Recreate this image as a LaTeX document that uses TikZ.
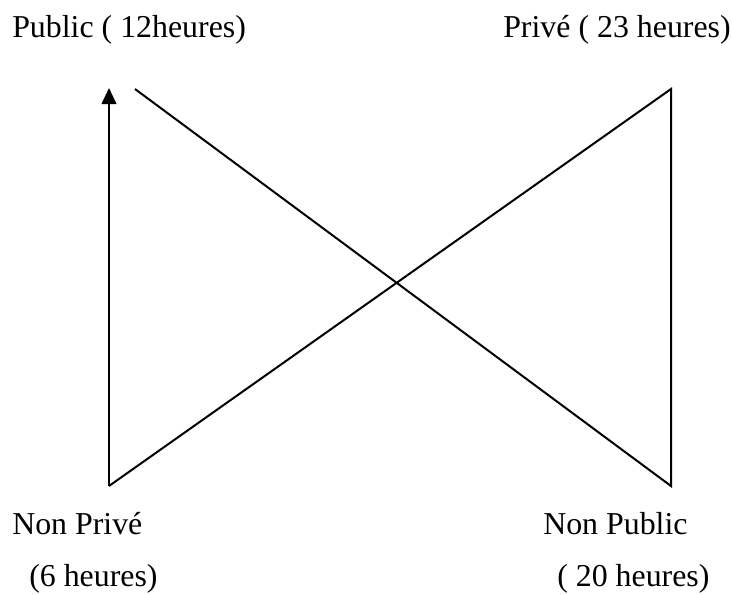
\documentclass[tikz,border=0pt]{standalone}
\usepackage{fontspec}
\setmainfont{Liberation Serif}
\usetikzlibrary{arrows.meta}
\begin{document}
\begin{tikzpicture}[x=0.75pt,y=-0.75pt,
  lbl/.style={anchor=base west,inner sep=0pt,font=\fontsize{23.9}{28}\selectfont},
  conn/.style={line width=1.5pt,line cap=butt,line join=miter},
  arr/.style={conn,-{Triangle[length=12pt,width=11pt]}}]
\useasboundingbox (0,0) rectangle (732,594);
\node[lbl] (pub) at (12,37) {Public ( 12heures)};
\node[lbl] (priv) at (503,37) {Privé ( 23 heures)};
\node[lbl] (npriv) at (12,534) {Non Privé};
\node[lbl] (npriv2) at (29,586) {(6 heures)};
\node[lbl] (npub) at (543,534) {Non Public};
\node[lbl] (npub2) at (557,586) {( 20 heures)};
\coordinate (a) at (109,486);
\coordinate (b) at (109,88);
\coordinate (c) at (135,89);
\coordinate (d) at (671,486);
\coordinate (e) at (671,89);
\draw[arr] (a) -- (b);
\draw[conn] (c) -- (d) -- (e) -- (a);
\end{tikzpicture}
\end{document}
